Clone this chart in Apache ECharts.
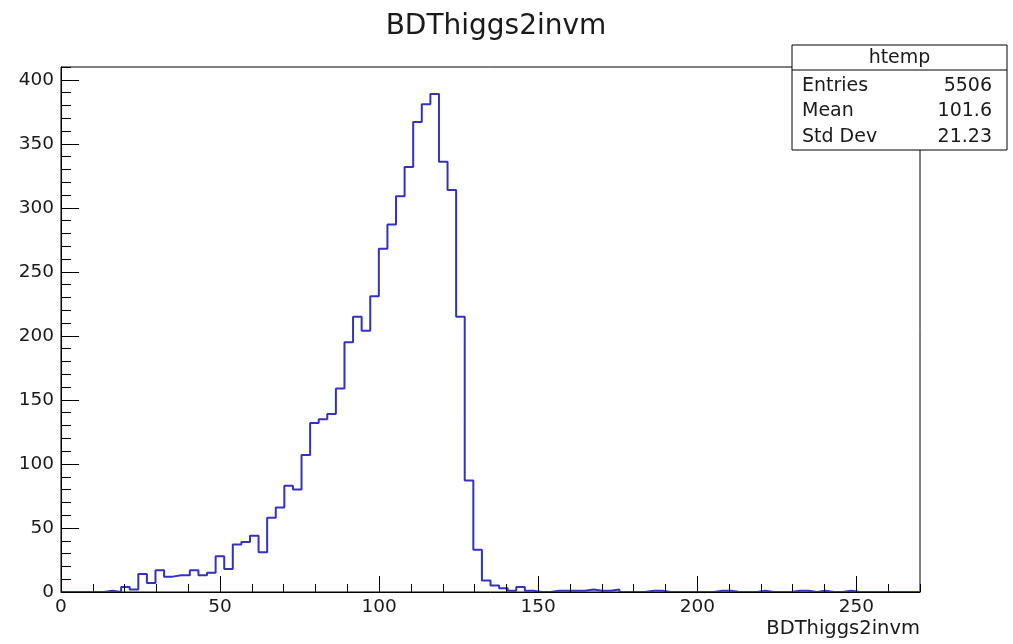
<!DOCTYPE html>
<html><head><meta charset="utf-8">
<script src="https://cdn.jsdelivr.net/npm/echarts@6/dist/echarts.min.js"></script>
<style>html,body{margin:0;padding:0;background:#fff}#c{width:1013px;height:644px}</style>
</head><body><div id="c"></div>
<script>
const chartTitle = 'BDThiggs2invm';
const xAxisTitle = 'BDThiggs2invm';
const binLow = 0, binHigh = 270, nBins = 100;
const counts = [
  0, 0, 0, 0, 0, 1, 0, 4, 2, 14,
  7, 17, 12, 13, 13, 17, 13, 15, 28, 18,
  37, 39, 44, 31, 58, 66, 83, 80, 107, 132,
  135, 139, 159, 195, 215, 204, 231, 268, 287, 309,
  332, 367, 381, 389, 336, 314, 215, 87, 33, 9,
  5, 3, 1, 4, 1, 0, 0, 1, 1, 1,
  1, 2, 1, 1, 2, 0, 0, 0, 1, 1,
  0, 0, 0, 0, 0, 0, 1, 1, 0, 0,
  0, 1, 0, 0, 0, 1, 1, 0, 1, 0,
  0, 1, 0, 0, 0, 0, 0, 0, 0, 0
];
const xMajorStep = 50, xMinorStep = 10;
const yMax = 410, yMajorStep = 50, yMinorStep = 10;
const statsName = 'htemp';
const statsLabels = ['Entries', 'Mean', 'Std Dev'];
const statsValues = ['5506', '101.6', '21.23'];

const binW = (binHigh - binLow) / nBins;
const stepData = [];
counts.forEach((v, i) => {
  const x0 = binLow + i * binW;
  stepData.push([x0, v], [x0 + binW, v]);
});

const FONT = '"DejaVu Sans", Verdana, sans-serif';
const G = {left: 61, right: 93, top: 67, bottom: 52};
const box = {x: 792, y: 45, w: 215, h: 105, head: 25};
const TXT = '#1a1a1a';

const statsGraphics = [
  {type: 'rect', shape: {x: box.x, y: box.y, width: box.w, height: box.h},
   style: {fill: '#fff', stroke: '#000', lineWidth: 1}, z: 10},
  {type: 'line', shape: {x1: box.x, y1: box.y + box.head, x2: box.x + box.w, y2: box.y + box.head},
   style: {stroke: '#000', lineWidth: 1}, z: 11},
  {type: 'text', x: box.x + box.w / 2, y: box.y + box.head / 2 + 1, z: 11,
   style: {text: statsName, font: '19px ' + FONT, fill: TXT, textAlign: 'center', textVerticalAlign: 'middle'}}
];
statsLabels.forEach((lab, i) => {
  const cy = box.y + box.head + 16 + i * 25.5;
  statsGraphics.push({type: 'text', x: box.x + 10, y: cy, z: 11,
    style: {text: lab, font: '19px ' + FONT, fill: TXT, textAlign: 'left', textVerticalAlign: 'middle'}});
  statsGraphics.push({type: 'text', x: box.x + box.w - 15, y: cy, z: 11,
    style: {text: statsValues[i], font: '19px ' + FONT, fill: TXT, textAlign: 'right', textVerticalAlign: 'middle'}});
});

const chart = echarts.init(document.getElementById('c'), null, {renderer: 'canvas'});
chart.setOption({
  animation: false,
  backgroundColor: '#fff',
  title: {text: chartTitle, left: 491, top: 8, textAlign: 'center',
    textStyle: {fontFamily: FONT, fontSize: 28, fontWeight: 'normal', color: TXT}},
  grid: Object.assign({show: true, borderColor: '#000', borderWidth: 1, backgroundColor: 'transparent'}, G),
  xAxis: [
    {type: 'value', min: binLow, max: binHigh, interval: xMajorStep, position: 'bottom', z: 3,
     name: xAxisTitle, nameLocation: 'end', nameGap: 0,
     nameTextStyle: {fontFamily: FONT, fontSize: 19.5, color: TXT, align: 'right', verticalAlign: 'top', padding: [27, 0, 0, 0]},
     axisLine: {show: true, onZero: false, lineStyle: {color: '#000', width: 1}},
     axisTick: {show: true, inside: true, length: 16, lineStyle: {color: '#000', width: 1}},
     axisLabel: {showMaxLabel: false, margin: 6, fontFamily: FONT, fontSize: 18.5, color: TXT},
     splitLine: {show: false}},
    {type: 'value', min: binLow, max: binHigh, interval: xMinorStep, position: 'bottom', z: 3,
     axisLine: {show: false},
     axisTick: {show: true, inside: true, length: 8, lineStyle: {color: '#000', width: 1}},
     axisLabel: {show: false}, splitLine: {show: false}}
  ],
  yAxis: [
    {type: 'value', min: 0, max: yMax, interval: yMajorStep, position: 'left', z: 3,
     axisLine: {show: true, onZero: false, lineStyle: {color: '#000', width: 1}},
     axisTick: {show: true, inside: true, length: 18, lineStyle: {color: '#000', width: 1}},
     axisLabel: {showMaxLabel: false, margin: 7, fontFamily: FONT, fontSize: 18.5, color: TXT},
     splitLine: {show: false}},
    {type: 'value', min: 0, max: yMax, interval: yMinorStep, position: 'left', z: 3,
     axisLine: {show: false},
     axisTick: {show: true, inside: true, length: 10, lineStyle: {color: '#000', width: 1}},
     axisLabel: {show: false}, splitLine: {show: false}}
  ],
  series: [{
    type: 'line', xAxisIndex: 0, yAxisIndex: 0, data: stepData,
    showSymbol: false, symbol: 'none', z: 2,
    lineStyle: {color: '#3232bc', width: 2}
  }],
  graphic: statsGraphics
});
</script></body></html>
